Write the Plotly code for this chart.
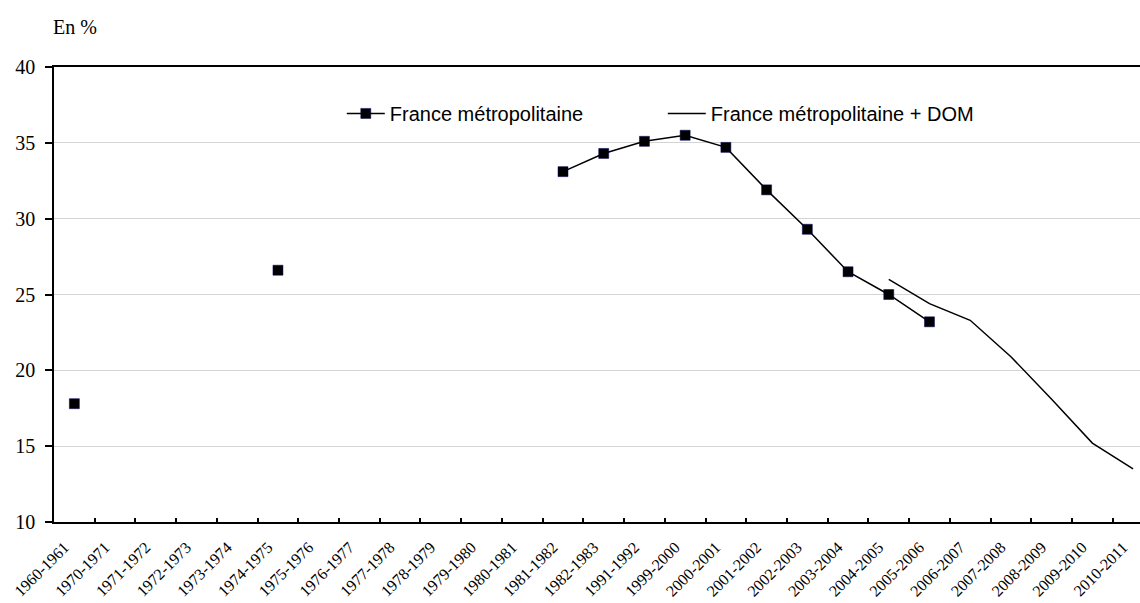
import plotly.graph_objects as go

categories = ["1960-1961", "1970-1971", "1971-1972", "1972-1973", "1973-1974", "1974-1975",
              "1975-1976", "1976-1977", "1977-1978", "1978-1979", "1979-1980", "1980-1981",
              "1981-1982", "1982-1983", "1991-1992", "1999-2000", "2000-2001", "2001-2002",
              "2002-2003", "2003-2004", "2004-2005", "2005-2006", "2006-2007", "2007-2008",
              "2008-2009", "2009-2010", "2010-2011"]

metro = [17.8, None, None, None, None, 26.6, None, None, None, None, None, None,
         33.1, 34.3, 35.1, 35.5, 34.7, 31.9, 29.3, 26.5, 25.0, 23.2,
         None, None, None, None, None]

metro_dom = [None] * 20 + [26.0, 24.4, 23.3, 20.9, 18.1, 15.2, 13.5]

fig = go.Figure()
fig.add_trace(go.Scatter(
    x=categories, y=metro, name="France métropolitaine",
    mode="lines+markers", connectgaps=False,
    line=dict(color="black", width=1.5),
    marker=dict(symbol="square", size=10, color="black", line=dict(color="#000060", width=0.5)),
))
fig.add_trace(go.Scatter(
    x=categories, y=metro_dom, name="France métropolitaine + DOM",
    mode="lines", connectgaps=False,
    line=dict(color="black", width=1.5),
))

fig.update_layout(
    width=1140, height=603,
    margin=dict(l=54, r=0, t=67, b=81),
    paper_bgcolor="white", plot_bgcolor="white",
    showlegend=True,
    legend=dict(orientation="h", x=0.265, y=0.898, xanchor="left", yanchor="middle",
                font=dict(family="Liberation Sans", size=20, color="black"),
                entrywidth=268, bgcolor="rgba(0,0,0,0)", itemwidth=38),
    xaxis=dict(type="category", range=[-0.5, 26.17], tickson="boundaries",
               ticks="inside", ticklen=4, tickcolor="black", tickwidth=1.5,
               showline=True, linecolor="black", linewidth=1.5, mirror=True,
               showgrid=False, tickangle=-45, automargin=False,
               ticklabelstandoff=8, ticklabelshift=-10,
               tickfont=dict(family="Liberation Serif", size=16, color="black")),
    yaxis=dict(range=[10, 40], dtick=5, ticks="outside", ticklen=7, tickcolor="black",
               tickwidth=1.5, showline=True, linecolor="black", linewidth=1.5,
               showgrid=True, gridcolor="#d4d4d4", gridwidth=1, zeroline=False,
               ticklabelstandoff=6, automargin=False,
               tickfont=dict(family="Liberation Serif", size=20, color="black")),
    annotations=[dict(text="En %", xref="paper", yref="paper", x=-0.003, y=1.088,
                      xanchor="left", yanchor="middle", showarrow=False,
                      font=dict(family="Liberation Serif", size=20, color="black"))],
)

fig.write_html("out.html", config={"displayModeBar": False},
               post_script="document.body.style.margin='0';")
